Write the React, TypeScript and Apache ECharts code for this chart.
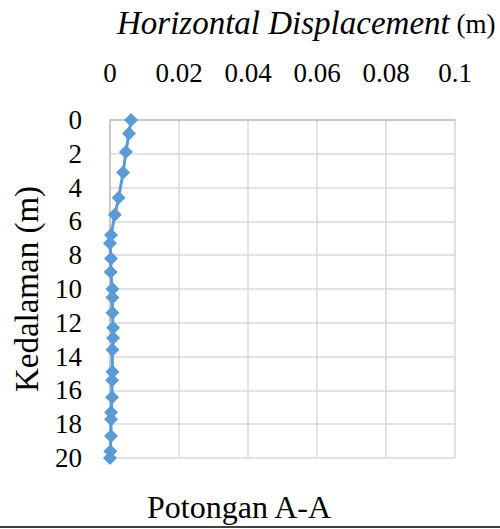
import React, { useEffect, useRef } from "react";
import * as echarts from "echarts";

const depths = [0, 0.8, 1.9, 3.1, 4.6, 5.6, 6.8, 7.3, 8.2, 9.0, 10.0, 10.5, 11.4, 12.3, 12.9, 13.6, 14.9, 15.4, 16.4, 17.3, 17.7, 18.7, 19.6, 20.0];
const displacement = [0.0061, 0.0055, 0.0046, 0.0038, 0.0025, 0.0014, 0.0003, 0.0, 0.0003, 0.0002, 0.0007, 0.0007, 0.0007, 0.0009, 0.0009, 0.0007, 0.0007, 0.0006, 0.0006, 0.0003, 0.0003, 0.0003, 0.0001, 0.0];

const xTitleItalic = "Horizontal Displacement";
const xTitleUnit = "(m)";
const yTitle = "Kedalaman (m)";
const caption = "Potongan A-A";

const FONT = '"Liberation Serif", "Times New Roman", serif';

export default function App() {
  const ref = useRef<HTMLDivElement>(null);
  useEffect(() => {
    const chart = echarts.init(ref.current!, null, { renderer: "svg" });
    chart.setOption({
      animation: false,
      backgroundColor: "#ffffff",
      textStyle: { fontFamily: FONT },
      grid: { left: 110, top: 120, width: 345, height: 338, containLabel: false, outerBoundsMode: "none" },
      xAxis: {
        type: "value",
        position: "top",
        min: 0,
        max: 0.1,
        interval: 0.02,
        axisLine: { show: true, lineStyle: { color: "#bfbfbf", width: 1.5 } },
        axisTick: { show: false },
        splitLine: { show: true, lineStyle: { color: "#d9d9d9", width: 1.5 } },
        axisLabel: { fontFamily: FONT, fontSize: 27, color: "#000", margin: 34 },
      },
      yAxis: {
        type: "value",
        inverse: true,
        min: 0,
        max: 20,
        interval: 2,
        name: yTitle,
        nameLocation: "middle",
        nameGap: 67,
        nameTextStyle: { fontFamily: FONT, fontSize: 33, color: "#000" },
        axisLine: { show: true, lineStyle: { color: "#bfbfbf", width: 1.5 } },
        axisTick: { show: false },
        splitLine: { show: true, lineStyle: { color: "#d9d9d9", width: 1.5 } },
        axisLabel: { fontFamily: FONT, fontSize: 27, color: "#000", margin: 28 },
      },
      series: [
        {
          type: "line",
          data: depths.map((d, i) => [displacement[i], d]),
          symbol: "diamond",
          symbolSize: 14,
          lineStyle: { color: "#5b9bd5", width: 3 },
          itemStyle: { color: "#5b9bd5" },
        },
      ],
      graphic: [
        {
          type: "text",
          left: 117,
          top: 6,
          style: {
            text: `{i|${xTitleItalic}}{n| ${xTitleUnit}}`,
            rich: {
              i: { fontFamily: FONT, fontStyle: "italic", fontWeight: "normal", fontSize: 33, fill: "#000", verticalAlign: "bottom" },
              n: { fontFamily: FONT, fontWeight: "normal", fontSize: 27, fill: "#000", verticalAlign: "bottom", padding: [0, 0, 2, 0] },
            },
          },
        },
        {
          type: "text",
          left: 147,
          top: 491,
          style: { text: caption, font: `32px ${FONT}`, fill: "#000" },
        },
        {
          type: "line",
          shape: { x1: 0, y1: 527, x2: 500, y2: 527 },
          style: { stroke: "#000", lineWidth: 1.5 },
        },
      ],
    });
    return () => chart.dispose();
  }, []);
  return <div ref={ref} style={{ width: 500, height: 529, position: "absolute", left: 0, top: 0 }} />;
}
